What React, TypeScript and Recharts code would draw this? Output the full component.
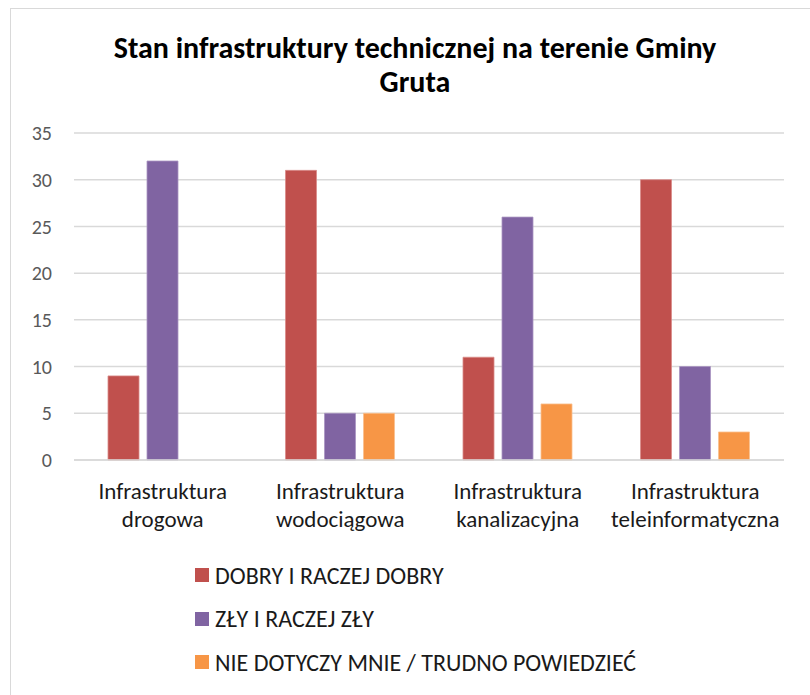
import React from 'react';
import { BarChart, Bar, XAxis, YAxis, CartesianGrid, Legend } from 'recharts';

const categories = ['Infrastruktura drogowa', 'Infrastruktura wodociągowa', 'Infrastruktura kanalizacyjna', 'Infrastruktura teleinformatyczna'];
const dobry = [9, 31, 11, 30];
const zly = [32, 5, 26, 10];
const nie = [0, 5, 6, 3];
const yTicks = [0, 5, 10, 15, 20, 25, 30, 35];
const seriesNames = ['DOBRY I RACZEJ DOBRY', 'ZŁY I RACZEJ ZŁY', 'NIE DOTYCZY MNIE / TRUDNO POWIEDZIEĆ'];
const colors = ['#C0504D', '#8064A2', '#F79646'];

const data = categories.map((c, i) => ({ name: c, dobry: dobry[i], zly: zly[i], nie: nie[i] }));

const FONT = "Carlito, Lato, 'Open Sans', sans-serif";

const CatTick = (props: any) => {
  const { x, y, payload } = props;
  const parts = String(payload.value).split(' ');
  return (
    <g>
      <text x={x} y={y + 31} textAnchor="middle" fill="#1a1a1a" fontSize={23} fontFamily={FONT}>{parts[0]}</text>
      <text x={x} y={y + 59} textAnchor="middle" fill="#1a1a1a" fontSize={23} fontFamily={FONT}>{parts.slice(1).join(' ')}</text>
    </g>
  );
};

const LegendContent = () => (
  <div style={{ position: 'relative' }}>
    {seriesNames.map((n, i) => (
      <div key={n} style={{ position: 'absolute', left: 0, top: i * 43.5, height: 30, display: 'flex', alignItems: 'center', fontFamily: FONT, fontSize: 24, color: '#1a1a1a', whiteSpace: 'nowrap' }}>
        <span style={{ display: 'inline-block', width: 14, height: 14, background: colors[i], marginRight: 6 }} />
        <span>{n}</span>
      </div>
    ))}
  </div>
);

export default function App() {
  return (
    <div style={{ position: 'absolute', left: 0, top: 0, width: 810, height: 695, background: '#fff', overflow: 'hidden' }}>
      <div style={{ position: 'absolute', left: 10, top: 8, width: 820, height: 720, border: '1px solid #D9D9D9', boxSizing: 'border-box' }} />
      <div style={{ position: 'absolute', left: 0, top: 31, width: 830, textAlign: 'center', fontFamily: FONT, fontWeight: 700, fontSize: 30, lineHeight: '34px', color: '#000' }}>
        Stan infrastruktury technicznej na terenie Gminy<br />Gruta
      </div>
      <div style={{ position: 'absolute', left: 0, top: 0 }}>
        <BarChart width={810} height={695} data={data} margin={{ top: 133, right: 26, bottom: 15, left: 0 }} barCategoryGap={34} barGap={8}>
          <CartesianGrid vertical={false} stroke="#D9D9D9" strokeWidth={1.5} />
          <XAxis dataKey="name" axisLine={{ stroke: '#D9D9D9', strokeWidth: 1.5 }} tickLine={false} tick={<CatTick />} interval={0} height={100} />
          <YAxis domain={[0, 35]} ticks={yTicks} width={74} axisLine={false} tickLine={false} tickSize={0} tickMargin={22} tick={{ fill: '#595959', fontSize: 20, fontFamily: FONT }} />
          <Legend content={<LegendContent />} wrapperStyle={{ position: 'absolute', left: 195, top: 560, width: 500, height: 120 }} />
          <Bar dataKey="dobry" name={seriesNames[0]} fill={colors[0]} stroke="#D98B89" strokeWidth={0.8} isAnimationActive={false} />
          <Bar dataKey="zly" name={seriesNames[1]} fill={colors[1]} stroke="#A996C2" strokeWidth={0.8} isAnimationActive={false} />
          <Bar dataKey="nie" name={seriesNames[2]} fill={colors[2]} stroke="#FAC08F" strokeWidth={0.8} isAnimationActive={false} />
        </BarChart>
      </div>
    </div>
  );
}
